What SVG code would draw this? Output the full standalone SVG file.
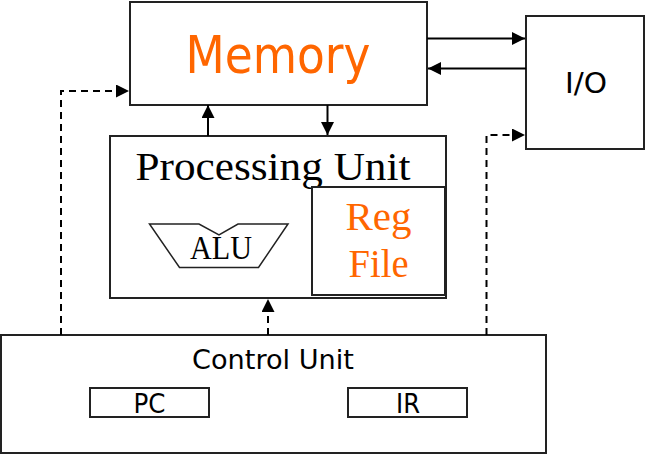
<svg xmlns="http://www.w3.org/2000/svg" width="646" height="455" viewBox="0 0 646 455">
<style>
.box{fill:#fff;stroke:#222;stroke-width:2}
.ln{fill:none;stroke:#000;stroke-width:2}
.dash{stroke-dasharray:7,5}
.sans{font-family:"DejaVu Sans","Liberation Sans",sans-serif}
.serif{font-family:"Liberation Serif","DejaVu Serif",serif}
.orange{fill:#FF6600}
</style>
<defs>
<marker id="ah" markerWidth="14" markerHeight="13" refX="13" refY="6.5" orient="auto" markerUnits="userSpaceOnUse">
<path d="M0,0 L13,6.5 L0,13 z" fill="#000"/>
</marker>
</defs>
<g id="memory">
<rect class="box" x="130" y="2" width="297" height="103"/>
<text class="sans orange" x="278" y="73" font-size="51" text-anchor="middle" textLength="185" lengthAdjust="spacingAndGlyphs">Memory</text>
</g>
<g id="io">
<rect class="box" x="526" y="16" width="118" height="133"/>
<text class="sans" x="586" y="93" font-size="29" text-anchor="middle" textLength="42" lengthAdjust="spacingAndGlyphs">I/O</text>
</g>
<g id="processing-unit">
<rect class="box" x="110" y="136" width="336" height="162"/>
<text class="serif" x="273" y="180" font-size="39" text-anchor="middle" textLength="275" lengthAdjust="spacingAndGlyphs">Processing Unit</text>
</g>
<g id="alu">
<polygon points="149.5,224 199,224 219,235 238,224 288,224 258.5,267.5 179.5,267.5" fill="#fff" stroke="#222" stroke-width="1.5"/>
<text class="serif" x="221" y="259" font-size="33" text-anchor="middle" textLength="62" lengthAdjust="spacingAndGlyphs">ALU</text>
</g>
<g id="reg-file">
<rect class="box" x="312" y="187" width="133" height="108"/>
<text class="serif orange" x="378.5" y="230" font-size="39" text-anchor="middle" textLength="66" lengthAdjust="spacingAndGlyphs">Reg</text>
<text class="serif orange" x="378.5" y="277" font-size="39" text-anchor="middle" textLength="60" lengthAdjust="spacingAndGlyphs">File</text>
</g>
<g id="control-unit">
<rect class="box" x="1" y="335" width="545" height="118"/>
<text class="sans" x="273" y="369" font-size="27" text-anchor="middle" textLength="162" lengthAdjust="spacingAndGlyphs">Control Unit</text>
</g>
<g id="pc">
<rect class="box" x="90" y="388" width="119" height="29"/>
<text class="sans" x="149.5" y="413" font-size="27" text-anchor="middle" textLength="32" lengthAdjust="spacingAndGlyphs">PC</text>
</g>
<g id="ir">
<rect class="box" x="348" y="388" width="119" height="29"/>
<text class="sans" x="408" y="413" font-size="27" text-anchor="middle" textLength="24" lengthAdjust="spacingAndGlyphs">IR</text>
</g>
<g id="connectors">
<line class="ln" x1="208" y1="136" x2="208" y2="105" marker-end="url(#ah)"/>
<line class="ln" x1="327.5" y1="105" x2="327.5" y2="135" marker-end="url(#ah)"/>
<line class="ln" x1="427" y1="38.5" x2="525" y2="38.5" marker-end="url(#ah)"/>
<line class="ln" x1="526" y1="68.5" x2="428" y2="68.5" marker-end="url(#ah)"/>
<polyline class="ln dash" points="61,335 61,91 129,91" marker-end="url(#ah)"/>
<polyline class="ln dash" points="486.5,335 486.5,135 525,135" marker-end="url(#ah)"/>
<line class="ln dash" x1="268" y1="335" x2="268" y2="299" marker-end="url(#ah)"/>
</g>
</svg>
